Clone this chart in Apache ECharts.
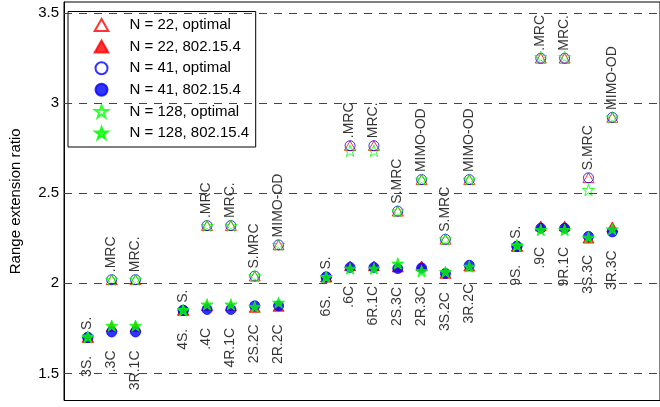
<!DOCTYPE html>
<html>
<head>
<meta charset="utf-8">
<script src="https://cdn.jsdelivr.net/npm/echarts@6/dist/echarts.min.js"></script>
<style>html,body{margin:0;padding:0;background:#fff}#c{width:660px;height:407px}</style>
</head>
<body>
<div id="c"></div>
<script>
// ---- data ----
const xPos = [1,2,3,5,6,7,8,9,11,12,13,14,15,16,17,19,20,21,22,23];
const topLabels = ['S.','.MRC','MRC.','S.','.MRC','MRC.','S.MRC','MIMO-OD','S.','.MRC','MRC.','S.MRC','MIMO-OD','S.MRC','MIMO-OD','S.','.MRC','MRC.','S.MRC','MIMO-OD'];
const bottomLabels = ['3S.','.3C','3R.1C','4S.','.4C','4R.1C','2S.2C','2R.2C','6S.','.6C','6R.1C','2S.3C','2R.3C','3S.2C','3R.2C','9S.','.9C','9R.1C','3S.3C','3R.3C'];
const opt22  = [1.70,2.02,2.02,1.85,2.32,2.32,2.04,2.213,2.035,2.763,2.763,2.40,2.575,2.244,2.575,2.205,3.248,3.248,2.585,2.92];
const opt41  = [1.70,2.02,2.02,1.85,2.32,2.32,2.04,2.213,2.035,2.763,2.763,2.40,2.575,2.244,2.575,2.205,3.248,3.248,2.585,2.92];
const opt128 = [1.70,2.02,2.02,1.85,2.32,2.32,2.04,2.213,2.035,2.735,2.735,2.40,2.575,2.244,2.575,2.21,3.255,3.255,2.518,2.92];
const std22  = [1.70,1.76,1.76,1.85,1.875,1.875,1.866,1.872,2.035,2.097,2.097,2.09,2.097,2.055,2.095,2.205,2.318,2.318,2.25,2.313];
const std41  = [1.70,1.73,1.73,1.85,1.855,1.855,1.875,1.875,2.035,2.088,2.088,2.082,2.085,2.054,2.10,2.205,2.305,2.305,2.26,2.285];
const std128 = [1.705,1.765,1.765,1.852,1.883,1.883,1.87,1.893,2.035,2.082,2.082,2.11,2.068,2.063,2.093,2.21,2.296,2.296,2.254,2.30];
const yTicks = [1.5,2,2.5,3,3.5];
const seriesNames = ['N = 22, optimal','N = 22, 802.15.4','N = 41, optimal','N = 41, 802.15.4','N = 128, optimal','N = 128, 802.15.4'];

// ---- styling ----
const FONT = 'Liberation Sans, Arial, Helvetica, sans-serif';
const STAR = 'path://M50 0 L61.23 34.55 L97.55 34.55 L68.17 55.9 L79.39 90.45 L50 69.1 L20.61 90.45 L31.83 55.9 L2.45 34.55 L38.77 34.55 Z';
const TRI = 'path://M50 0 L100 88 L0 88 Z';
const RED = '#ff0000', BLUE = '#0000ff', GREEN = '#00ff00', NONE = 'rgba(0,0,0,0)';

function pts(vals){ return vals.map((v,i)=>[xPos[i], v]); }

function mk(name, vals, symbol, size, color, filled, extra){
  return Object.assign({
    type:'scatter', name, data: pts(vals), symbol, symbolSize: size, symbolKeepAspect: true,
    itemStyle: {color: filled ? color : NONE, borderColor: color, borderWidth: 1},
    emphasis: {disabled: true}, silent: true
  }, extra||{});
}

const series = [
  mk(seriesNames[0], opt22, TRI, 11, RED, false, {
    markLine: {
      silent: true, symbol: ['none','none'], label: {show:false},
      lineStyle: {color:'#444', width:1, type:[8,7]},
      data: yTicks.map(v=>({yAxis: v}))
    }
  }),
  mk(seriesNames[1], std22, TRI, 11, RED, true),
  mk(seriesNames[2], opt41, 'circle', 10, BLUE, false, {
    label: {
      show: true, formatter: p => topLabels[p.dataIndex], rotate: 90,
      position: [5, -2], align: 'left', verticalAlign: 'middle',
      fontFamily: FONT, fontSize: 14, color: '#000'
    }
  }),
  mk(seriesNames[3], std41, 'circle', 10, BLUE, true, {
    label: {
      show: true, formatter: p => bottomLabels[p.dataIndex], rotate: 90,
      position: [5, 24], align: 'right', verticalAlign: 'middle',
      fontFamily: FONT, fontSize: 14, color: '#000'
    }
  }),
  mk(seriesNames[4], opt128, STAR, 12, GREEN, false),
  mk(seriesNames[5], std128, STAR, 12, GREEN, true)
];

const chart = echarts.init(document.getElementById('c'), null, {renderer:'canvas'});
chart.setOption({
  animation: false,
  backgroundColor: '#fff',
  grid: {left: 55, top: 2, right: -5.5, bottom: 6.5, show: true, borderColor: '#000', borderWidth: 1, backgroundColor: '#fff'},
  xAxis: {type:'value', min:0, max:25, axisLine:{show:false}, axisTick:{show:false}, axisLabel:{show:false}, splitLine:{show:false}},
  yAxis: {
    type:'value', min:1.35, max:3.56,
    name: 'Range extension ratio', nameLocation: 'middle', nameGap: 41,
    nameTextStyle: {fontFamily: FONT, fontSize: 15, color:'#000'},
    axisLine: {show:true, lineStyle:{color:'#000'}},
    axisTick: {show:true, inside:true, length:5, customValues: yTicks, lineStyle:{color:'#000'}},
    axisLabel: {customValues: yTicks, margin: 5, fontFamily: FONT, fontSize: 15, color:'#000', formatter: v => String(v)},
    splitLine: {show:false}
  },
  legend: {
    orient: 'vertical', left: 68, top: 11.5,
    data: seriesNames,
    itemWidth: 46, itemHeight: 12, itemGap: 6.6,
    padding: [6, 6.5, 6.5, 25.7],
    backgroundColor: '#fff', borderColor: '#000', borderWidth: 1,
    selectedMode: false,
    textStyle: {fontFamily: FONT, fontSize: 15, color:'#000'}
  },
  series
});
</script>
</body>
</html>
